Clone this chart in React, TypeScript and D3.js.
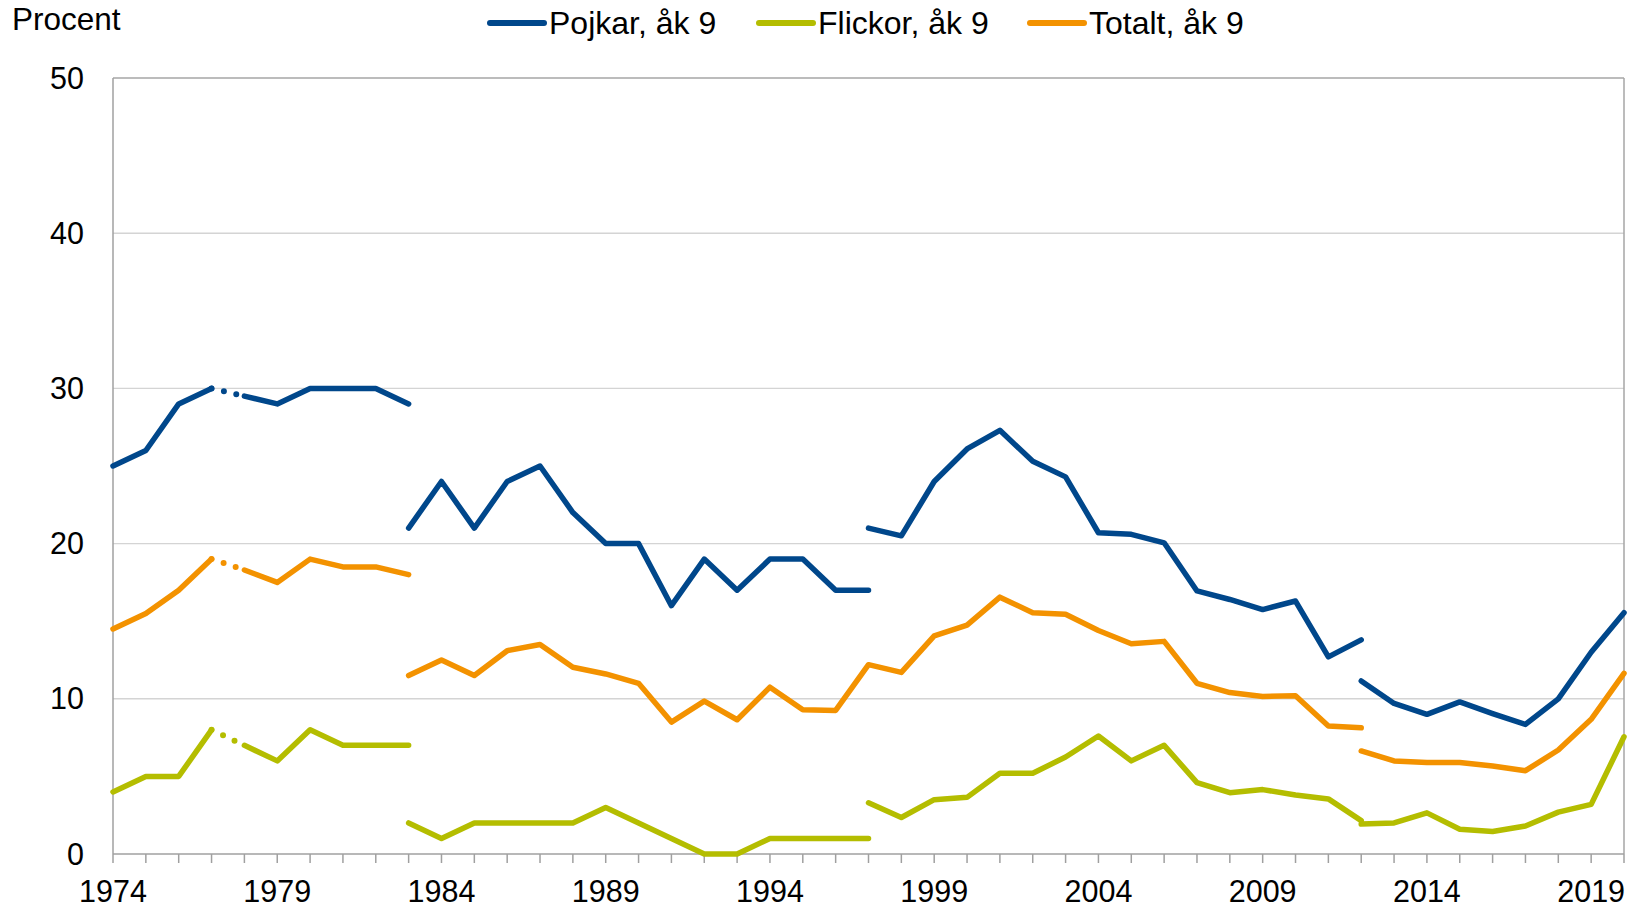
import React from 'react';
import * as d3 from 'd3';

const W = 1635;
const H = 906;

const yearsAll = [
  1974, 1975, 1976, 1977, 1978, 1979, 1980, 1981, 1982, 1983, 1984, 1985, 1986, 1987, 1988, 1989,
  1990, 1991, 1992, 1993, 1994, 1995, 1996, 1997, 1998, 1999, 2000, 2001, 2002, 2003, 2004, 2005,
  2006, 2007, 2008, 2009, 2010, 2011, 2012, 2013, 2014, 2015, 2016, 2017, 2018, 2019, 2020,
];
const xTickLabels = [1974, 1979, 1984, 1989, 1994, 1999, 2004, 2009, 2014, 2019];
const yTicks = [0, 10, 20, 30, 40, 50];

// Pojkar, åk 9
const pojkar_1974_1977 = [25, 26, 29, 30];
const pojkar_1978_1983 = [29.5, 29, 30, 30, 30, 29];
const pojkar_1983_1997 = [21, 24, 21, 24, 25, 22, 20, 20, 16, 19, 17, 19, 19, 17, 17];
const pojkar_1997_2012 = [21, 20.5, 24, 26.1, 27.3, 25.3, 24.3, 20.7, 20.6, 20.05, 16.95, 16.4, 15.75, 16.3, 12.7, 13.8];
const pojkar_2012_2020 = [11.15, 9.7, 9.0, 9.8, 9.05, 8.35, 10.0, 13.0, 15.55];

// Flickor, åk 9
const flickor_1974_1977 = [4, 5, 5, 8];
const flickor_1978_1983 = [7, 6, 8, 7, 7, 7];
const flickor_1983_1997 = [2, 1, 2, 2, 2, 2, 3, 2, 1, 0, 0, 1, 1, 1, 1];
const flickor_1997_2012 = [3.3, 2.35, 3.5, 3.65, 5.2, 5.2, 6.25, 7.6, 6.0, 7.0, 4.6, 3.95, 4.15, 3.8, 3.55, 2.15];
const flickor_2012_2020 = [1.93, 2.0, 2.65, 1.6, 1.45, 1.8, 2.7, 3.2, 7.55];

// Totalt, åk 9
const totalt_1974_1977 = [14.5, 15.5, 17, 19];
const totalt_1978_1983 = [18.3, 17.5, 19, 18.5, 18.5, 18];
const totalt_1983_2012 = [
  11.5, 12.5, 11.5, 13.1, 13.5, 12.03, 11.6, 11.0, 8.5, 9.85, 8.65, 10.75, 9.3, 9.25, 12.2,
  11.7, 14.05, 14.75, 16.55, 15.55, 15.45, 14.4, 13.55, 13.7, 11.0, 10.4, 10.15, 10.2, 8.25, 8.13,
];
const totalt_2012_2020 = [6.64, 6.0, 5.9, 5.9, 5.67, 5.37, 6.7, 8.68, 11.64];

const seriesNames = ['Pojkar, åk 9', 'Flickor, åk 9', 'Totalt, åk 9'];
const seriesColors = ['#00478B', '#B4BD00', '#F39200'];

type Seg = { start: number; values: number[] };

const seriesSegments: Seg[][] = [
  [
    { start: 1974, values: pojkar_1974_1977 },
    { start: 1978, values: pojkar_1978_1983 },
    { start: 1983, values: pojkar_1983_1997 },
    { start: 1997, values: pojkar_1997_2012 },
    { start: 2012, values: pojkar_2012_2020 },
  ],
  [
    { start: 1974, values: flickor_1974_1977 },
    { start: 1978, values: flickor_1978_1983 },
    { start: 1983, values: flickor_1983_1997 },
    { start: 1997, values: flickor_1997_2012 },
    { start: 2012, values: flickor_2012_2020 },
  ],
  [
    { start: 1974, values: totalt_1974_1977 },
    { start: 1978, values: totalt_1978_1983 },
    { start: 1983, values: totalt_1983_2012 },
    { start: 2012, values: totalt_2012_2020 },
  ],
];

const FONT = '"Liberation Sans", Arial, Helvetica, sans-serif';

export default function App() {
  const x = d3.scaleLinear().domain([1974, 2020]).range([113, 1624]);
  const y = d3.scaleLinear().domain([0, 50]).range([854, 78]);
  const line = d3
    .line<[number, number]>()
    .x((d) => x(d[0]))
    .y((d) => y(d[1]));

  const x0 = x(1974);
  const x1 = x(2020);
  const yb = y(0);
  const yt = y(50);

  const legendX = [490, 759, 1030];

  return (
    <div style={{ position: 'absolute', left: 0, top: 0, width: W, height: H, background: '#fff' }}>
      <svg width={W} height={H} style={{ display: 'block' }} fontFamily={FONT}>
        <rect x={0} y={0} width={W} height={H} fill="#fff" />
        {/* gridlines */}
        {yTicks
          .filter((t) => t > 0 && t < 50)
          .map((t) => (
            <line key={'g' + t} x1={x0} x2={x1} y1={y(t)} y2={y(t)} stroke="#d4d4d4" strokeWidth={1.4} />
          ))}
        {/* frame */}
        <line x1={x0} x2={x1} y1={yt} y2={yt} stroke="#a6a6a6" strokeWidth={1.5} />
        <line x1={x1} x2={x1} y1={yt} y2={yb} stroke="#a6a6a6" strokeWidth={1.5} />
        <line x1={x0} x2={x0} y1={yt} y2={yb} stroke="#a0a0a0" strokeWidth={1.5} />
        <line x1={x0} x2={x1} y1={yb} y2={yb} stroke="#a0a0a0" strokeWidth={1.5} />
        {/* x ticks */}
        {yearsAll.map((yr) => (
          <line key={'t' + yr} x1={x(yr)} x2={x(yr)} y1={yb} y2={yb + 9} stroke="#a0a0a0" strokeWidth={1.5} />
        ))}
        {xTickLabels.map((yr) => (
          <text key={'xl' + yr} x={x(yr)} y={902} textAnchor="middle" fontSize={30.5} fill="#000">
            {yr}
          </text>
        ))}
        {yTicks.map((t) => (
          <text key={'yl' + t} x={84} y={y(t) + 10.5} textAnchor="end" fontSize={30.5} fill="#000">
            {t}
          </text>
        ))}
        <text x={12} y={30} fontSize={31.5} fill="#000">
          Procent
        </text>
        {/* series */}
        {seriesSegments.map((segs, si) => (
          <g key={'s' + si}>
            {segs.map((seg, gi) => {
              const pts = seg.values.map((v, i) => [seg.start + i, v] as [number, number]);
              return (
                <path
                  key={'seg' + gi}
                  d={line(pts) || ''}
                  fill="none"
                  stroke={seriesColors[si]}
                  strokeWidth={5.5}
                  strokeLinejoin="round"
                  strokeLinecap="round"
                />
              );
            })}
            {(() => {
              const a = segs[0];
              const b = segs[1];
              const p: [number, number][] = [
                [a.start + a.values.length - 1, a.values[a.values.length - 1]],
                [b.start, b.values[0]],
              ];
              return (
                <path
                  d={line(p) || ''}
                  fill="none"
                  stroke={seriesColors[si]}
                  strokeWidth={6}
                  strokeLinecap="round"
                  strokeDasharray="0 12.7"
                />
              );
            })()}
          </g>
        ))}
        {/* legend */}
        {seriesNames.map((name, i) => (
          <g key={'lg' + i}>
            <line
              x1={legendX[i]}
              x2={legendX[i] + 54}
              y1={23}
              y2={23}
              stroke={seriesColors[i]}
              strokeWidth={6}
              strokeLinecap="round"
            />
            <text x={legendX[i] + 59} y={34} fontSize={32} fill="#000">
              {name}
            </text>
          </g>
        ))}
      </svg>
    </div>
  );
}
